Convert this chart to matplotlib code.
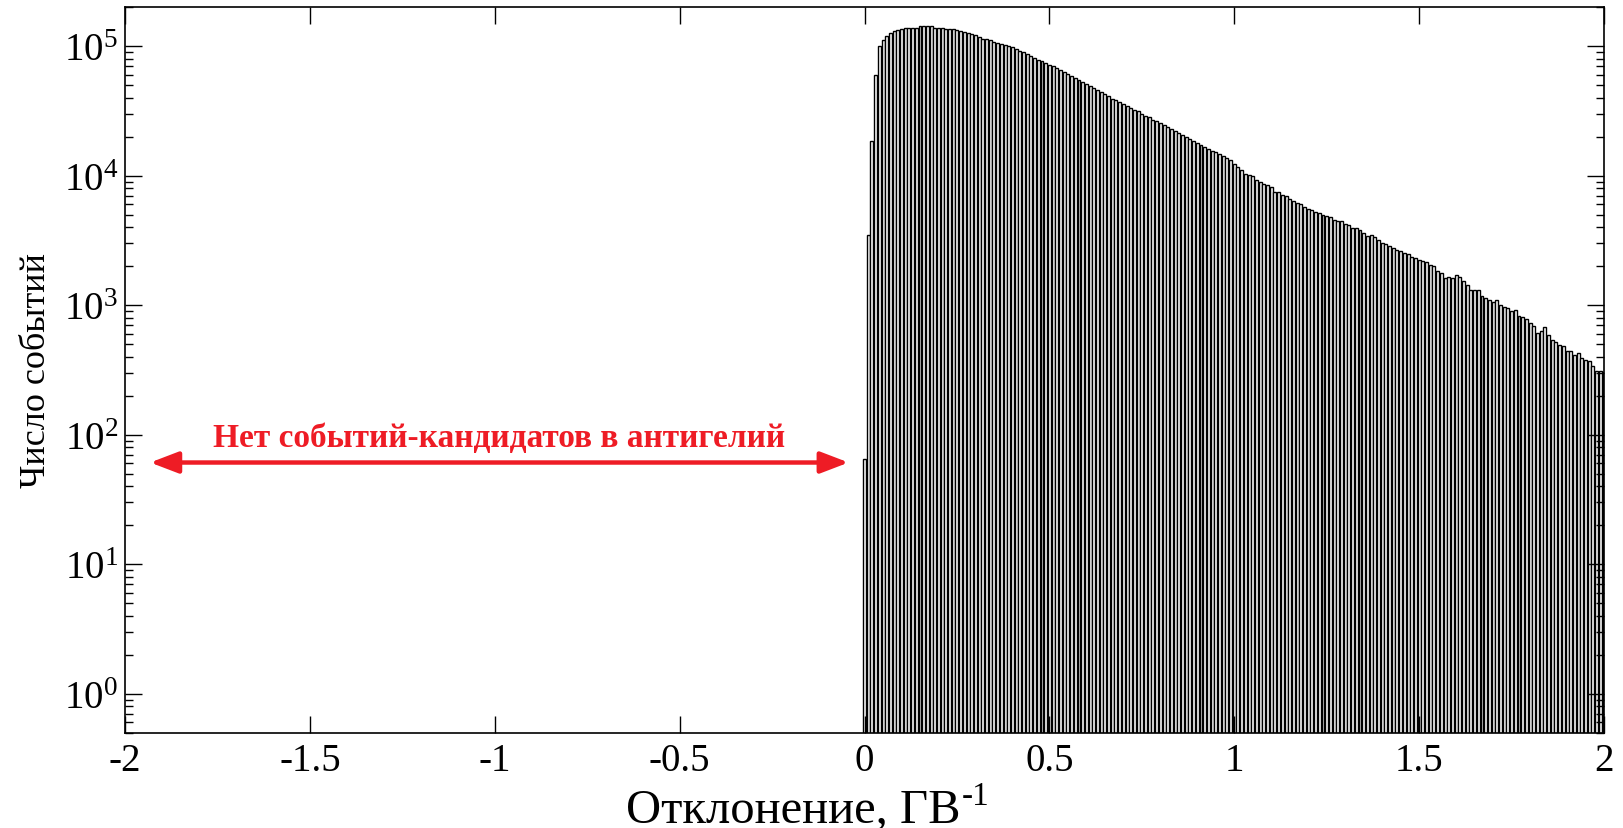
import numpy as np
import matplotlib
matplotlib.use("Agg")
import matplotlib.pyplot as plt
from matplotlib.ticker import LogLocator, FixedLocator, NullLocator, LogFormatterMathtext

plt.rcParams["font.family"] = ["Liberation Serif", "DejaVu Serif"]
plt.rcParams["mathtext.fontset"] = "custom"
plt.rcParams["mathtext.rm"] = "Liberation Serif"
plt.rcParams["mathtext.it"] = "Liberation Serif:italic"
plt.rcParams["mathtext.bf"] = "Liberation Serif:bold"
plt.rcParams["axes.unicode_minus"] = False

# deflection histogram, bins of 0.01 GV^-1 starting at 0
bin_width = 0.01
counts = [
    65, 3500, 18450, 59700, 101200, 111200, 120800, 126500, 130300, 133700,
    135800, 137400, 139300, 139300, 139300, 142600, 142600, 142600, 142600, 138400,
    138400, 138400, 135200, 135200, 135200, 133500, 131200, 128100, 125900, 125100,
    121500, 117900, 114500, 113100, 111100, 108500, 106000, 104100, 102300, 99900,
    98700, 94700, 91400, 89800, 87200, 84100, 81700, 78800, 76900, 74300,
    71700, 70000, 67960, 65200, 63300, 61100, 58950, 56900, 55230, 53300,
    51440, 49640, 47900, 46230, 44610, 42550, 41060, 39390, 38470, 37350,
    36050, 34780, 33570, 32390, 31450, 30170, 29120, 28270, 27120, 26330,
    25410, 24520, 23800, 22970, 22170, 21390, 20640, 19920, 19230, 18560,
    17910, 17390, 16780, 16190, 15630, 15170, 14640, 14130, 13630, 13160,
    12390, 11610, 11020, 10380, 10190, 9910, 9330, 9020, 8630, 8430,
    8180, 7530, 7500, 7140, 6930, 6620, 6430, 6170, 6050, 5740,
    5570, 5450, 5280, 5190, 4980, 4890, 4780, 4580, 4480, 4480,
    4250, 4140, 3970, 3970, 3810, 3600, 3450, 3490, 3370, 3210,
    3030, 2970, 2850, 2770, 2690, 2610, 2550, 2500, 2360, 2320,
    2250, 2210, 2160, 2060, 2000, 1840, 1770, 1630, 1650, 1620,
    1700, 1640, 1530, 1440, 1300, 1300, 1300, 1170, 1140, 1100,
    1060, 1090, 1000, 970, 946, 897, 920, 832, 807, 789,
    729, 687, 614, 630, 676, 593, 536, 518, 497, 482,
    441, 441, 415, 431, 392, 380, 369, 342, 309, 309,
    303,
]
x_ticks = [-2, -1.5, -1, -0.5, 0, 0.5, 1, 1.5, 2]
x_labels = ["-2", "-1.5", "-1", "-0.5", "0", "0.5", "1", "1.5", "2"]

note_text = "Нет событий-кандидатов в антигелий"
arrow_from, arrow_to, arrow_level = -1.932, -0.043, 61
red = "#EE1C25"

centers = np.arange(len(counts)) * bin_width

fig = plt.figure(figsize=(16.24, 8.29), dpi=100)
ax = fig.add_axes([0.077, 0.115, 0.9107, 0.875])

ax.bar(centers, np.array(counts) - 0.1, width=bin_width * 0.8, bottom=0.1,
       facecolor="white", edgecolor="black", linewidth=1.0, align="center")

ax.set_yscale("log")
ax.set_xlim(-2, 2)
ax.set_ylim(0.5, 2e5)

ax.xaxis.set_major_locator(FixedLocator(x_ticks))
ax.set_xticklabels(x_labels)
ax.xaxis.set_minor_locator(NullLocator())
ax.yaxis.set_major_locator(LogLocator(base=10, numticks=10))
ax.yaxis.set_minor_locator(LogLocator(base=10, subs=np.arange(2, 10), numticks=20))
ax.yaxis.set_major_formatter(LogFormatterMathtext())

ax.tick_params(which="both", direction="in", top=True, right=True, width=1.0)
ax.tick_params(which="major", length=12, labelsize=28)
ax.tick_params(axis="x", which="major", pad=7)
ax.tick_params(axis="y", which="major", pad=5)
ax.tick_params(which="minor", length=6)
for sp in ax.spines.values():
    sp.set_linewidth(1.2)

ax.set_xlabel("Отклонение, ГВ", fontsize=35)
ax.xaxis.set_label_coords(0.452, -0.075)
ax.set_ylabel("Число событий", fontsize=26, labelpad=8)
# superscript "-1" next to the x-axis unit
ax.annotate("-1", xy=(1, 1), xycoords=ax.xaxis.label, xytext=(1, -6),
            textcoords="offset points", fontsize=24, ha="left", va="center")

ax.annotate("", xy=(arrow_to, arrow_level), xytext=(arrow_from, arrow_level),
            arrowprops=dict(arrowstyle="<|-|>,head_length=1.7,head_width=0.65",
                            color=red, lw=3.2, shrinkA=0, shrinkB=0))
ax.text((arrow_from + arrow_to) / 2, 95, note_text, color=red, fontsize=24,
        fontweight="bold", ha="center", va="center")

fig.savefig("out.png", dpi=100)
